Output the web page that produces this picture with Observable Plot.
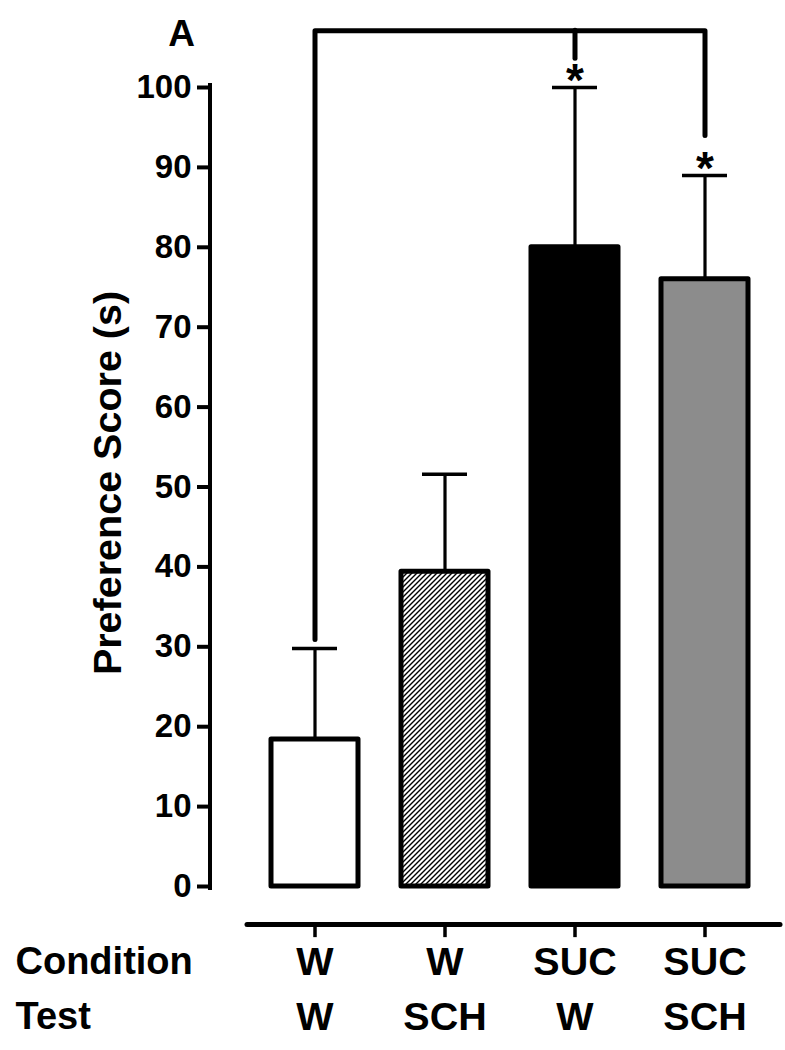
<!DOCTYPE html>
<html>
<head>
<meta charset="utf-8">
<script src="https://cdn.jsdelivr.net/npm/d3@7"></script>
<script src="https://cdn.jsdelivr.net/npm/@observablehq/plot@0.6"></script>
<style>
  html, body { margin: 0; padding: 0; background: #fff; }
  #chart svg { display: block; font-family: "Liberation Sans", Arial, sans-serif; }
</style>
</head>
<body>
<div id="chart"></div>
<script>
// ---- data ----
const conditionLabels = ["W", "W", "SUC", "SUC"];
const testLabels = ["W", "SCH", "W", "SCH"];
const meanScores = [18.4, 39.4, 80, 76];
const errorTops = [29.8, 51.6, 100, 89];
const yTickValues = [0, 10, 20, 30, 40, 50, 60, 70, 80, 90, 100];
const yLabel = "Preference Score (s)";
const panelLabel = "A";
const rowLabels = ["Condition", "Test"];
const significant = [false, false, true, true];

// ---- build table ----
const keys = conditionLabels.map((c, i) => `${c}|${testLabels[i]}`);
const rows = keys.map((k, i) => ({key: k, cond: conditionLabels[i], test: testLabels[i], mean: meanScores[i], err: errorTops[i], sig: significant[i]}));

// styles
const barFill = ["white", "url(#hatch)", "black", "#8c8c8c"];
const FONT = "Liberation Sans, Arial, sans-serif";

// significance bracket levels (in data units)
const bracketTop = 107.1;
const bracketPath = [
  {key: keys[0], y: errorTops[0] + 1.1},
  {key: keys[0], y: bracketTop},
  {key: keys[3], y: bracketTop},
  {key: keys[3], y: errorTops[3] + 5}
];

const hatchDefs = () => {
  const defs = d3.create("svg:defs");
  const p = defs.append("pattern")
    .attr("id", "hatch")
    .attr("patternUnits", "userSpaceOnUse")
    .attr("width", 5).attr("height", 5);
  p.append("rect").attr("width", 5).attr("height", 5).attr("fill", "white");
  p.append("path")
    .attr("d", "M-1,1 L1,-1 M0,5 L5,0 M4,6 L6,4")
    .attr("stroke", "black").attr("stroke-width", 1.4);
  return defs.node();
};

const axisLine = (index, scales, values, dims) => {
  const g = d3.create("svg:line")
    .attr("x1", dims.marginLeft).attr("x2", dims.marginLeft)
    .attr("y1", scales.y(0) + 2).attr("y2", scales.y(100) - 2)
    .attr("stroke", "black").attr("stroke-width", 4)
    .attr("stroke-linecap", "square");
  return g.node();
};

const chart = Plot.plot({
  width: 785,
  height: 1050,
  marginLeft: 210,
  marginRight: 5,
  marginTop: 87,
  marginBottom: 164,
  style: {fontFamily: FONT, background: "white", overflow: "visible"},
  x: {domain: keys, range: [270, 750], paddingInner: 0.33, paddingOuter: 0, axis: null},
  y: {domain: [0, 100], axis: null},
  color: {type: "identity"},
  marks: [
    hatchDefs,
    // error bars (behind bars)
    Plot.ruleX(rows, {x: "key", y1: "mean", y2: "err", stroke: "black", strokeWidth: 3.2}),
    Plot.tickY(rows, {x: "key", y: "err", stroke: "black", strokeWidth: 3.5, insetLeft: 21, insetRight: 21}),
    // bars
    Plot.barY(rows, {x: "key", y: "mean", fill: (d, i) => barFill[i], stroke: "black", strokeWidth: 5, strokeLinejoin: "round"}),
    // y axis
    axisLine,
    Plot.axisY({ticks: yTickValues, tickSize: 13, tickPadding: 6, tickFormat: d => String(d),
      fontSize: 33, fontWeight: "bold", strokeWidth: 4, label: null, fill: "black", color: "black"}),
    Plot.text([yLabel], {frameAnchor: "left", textAnchor: "middle", lineAnchor: "middle", rotate: -90, dx: -102, dy: -4, fontSize: 39.5, fontWeight: "bold", fill: "black"}),
    Plot.text([panelLabel], {frameAnchor: "top-left", textAnchor: "middle", lineAnchor: "middle", dx: -29, dy: -53, fontSize: 37, fontWeight: "bold", fill: "black"}),
    // significance bracket
    Plot.line(bracketPath, {x: "key", y: "y", stroke: "black", strokeWidth: 5, strokeLinejoin: "round", strokeLinecap: "round"}),
    Plot.ruleX(rows.filter((d, i) => i === 2), {x: "key", y1: bracketTop, y2: 103.6, stroke: "black", strokeWidth: 5, strokeLinecap: "round"}),
    Plot.text(rows.filter(d => d.sig), {x: "key", y: d => d.err + 0.8, text: () => "*", fontSize: 46, fontWeight: "bold", fill: "black"}),
    // bottom category axis
    Plot.ruleY([-4.76], {insetLeft: 37, stroke: "black", strokeWidth: 5, strokeLinecap: "round"}),
    Plot.ruleX(rows, {x: "key", y1: -4.76, y2: -6.4, stroke: "black", strokeWidth: 3.5}),
    Plot.text(rows, {x: "key", y: -9.45, text: "cond", fontSize: 39.5, fontWeight: "bold", fill: "black"}),
    Plot.text(rows, {x: "key", y: -16.33, text: "test", fontSize: 39.5, fontWeight: "bold", fill: "black"}),
    Plot.text([rowLabels[0]], {frameAnchor: "left", y: -9.45, dx: -195, textAnchor: "start", fontSize: 38, fontWeight: "bold", fill: "black"}),
    Plot.text([rowLabels[1]], {frameAnchor: "left", y: -16.33, dx: -195, textAnchor: "start", fontSize: 38, fontWeight: "bold", fill: "black"})
  ]
});
document.getElementById("chart").appendChild(chart);
</script>
</body>
</html>
